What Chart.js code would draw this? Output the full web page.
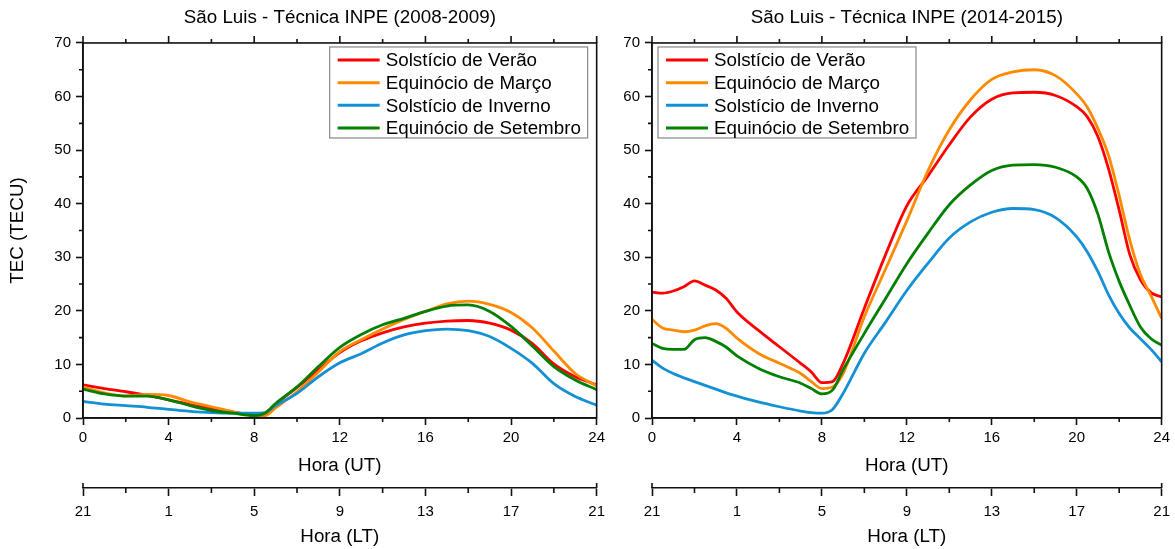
<!DOCTYPE html>
<html lang="pt">
<head>
<meta charset="utf-8">
<title>TEC São Luis - Técnica INPE</title>
<script src="https://cdn.jsdelivr.net/npm/chart.js@4.4.0/dist/chart.umd.min.js"></script>
<style>
  html, body { margin: 0; padding: 0; background: #fff; }
  #wrap { position: relative; width: 1175px; height: 549px; overflow: hidden; }
  canvas { position: absolute; top: 0; }
  #c1 { left: 0; }
  #c2 { left: 612px; }
</style>
</head>
<body>
<div id="wrap">
  <canvas id="c1" width="612" height="549"></canvas>
  <canvas id="c2" width="565" height="549"></canvas>
</div>
<script>
// ---- data ----
const seriesNames = ['Solstício de Verão', 'Equinócio de Março', 'Solstício de Inverno', 'Equinócio de Setembro'];
const seriesColors = ['#FF0000', '#FF8A00', '#1490D5', '#008000'];

const utTicks = [0, 4, 8, 12, 16, 20, 24];
const utMinor = [2, 6, 10, 14, 18, 22];
const ltLabels = ['21', '1', '5', '9', '13', '17', '21'];
const tecMinor = [5, 15, 25, 35, 45, 55, 65];

// 2008-2009 (hours UT)
const hoursA = [0, 1, 2, 3, 4, 5, 6, 7, 8, 8.5, 9, 10, 11, 12, 13, 14, 15, 16, 17, 18, 19, 20, 21, 22, 23, 24];
const veraoA = [6.2, 5.5, 4.9, 4.2, 3.4, 2.5, 1.8, 1.1, 0.6, 0.9, 2.6, 5.7, 9.0, 12.2, 14.4, 15.9, 17.0, 17.7, 18.1, 18.2, 17.7, 16.4, 13.9, 10.1, 7.7, 6.2];
const marcoA = [5.8, 4.7, 4.1, 4.4, 4.2, 3.0, 2.1, 1.2, 0.4, 0.45, 1.9, 4.9, 8.6, 12.4, 14.6, 16.6, 18.4, 19.9, 21.3, 21.8, 21.2, 19.7, 16.8, 12.5, 8.3, 6.0];
const invernoA = [3.1, 2.6, 2.3, 2.0, 1.6, 1.25, 1.0, 0.9, 0.9, 1.0, 2.3, 4.6, 7.7, 10.3, 12.0, 14.0, 15.5, 16.3, 16.6, 16.3, 15.2, 13.0, 10.2, 6.4, 4.0, 2.4];
const setembroA = [5.4, 4.5, 4.1, 4.1, 3.4, 2.3, 1.4, 0.9, 0.45, 0.9, 2.7, 5.8, 9.6, 13.2, 15.6, 17.4, 18.6, 19.9, 20.9, 21.1, 19.9, 17.1, 13.4, 9.6, 7.1, 5.3];

// 2014-2015 (hours UT)
const hoursB = [0, 0.5, 1, 1.5, 2, 2.5, 3, 3.5, 4, 5, 6, 7, 7.5, 8, 8.5, 9, 10, 11, 12, 13, 14, 15, 16, 17, 18, 19, 20, 20.5, 21, 21.5, 22, 22.5, 23, 23.5, 24];
const veraoB = [23.5, 23.3, 23.7, 24.5, 25.6, 24.8, 23.9, 22.3, 19.8, 16.4, 13.3, 10.2, 8.6, 6.6, 6.8, 10.2, 20.5, 30.5, 39.6, 45.2, 51.0, 56.2, 59.5, 60.7, 60.8, 60.2, 58.1, 56.2, 52.5, 46.5, 38.8, 30.5, 25.8, 23.4, 22.6];
const marcoB = [18.4, 16.8, 16.4, 16.1, 16.4, 17.2, 17.6, 16.7, 14.9, 12.1, 10.2, 8.3, 6.8, 5.5, 5.8, 8.3, 18.9, 27.8, 36.8, 46.2, 53.8, 59.4, 63.2, 64.6, 65.0, 63.9, 60.5, 58.0, 54.0, 49.0, 41.5, 33.2, 26.8, 22.8, 18.6];
const invernoB = [10.8, 9.3, 8.3, 7.5, 6.8, 6.1, 5.4, 4.7, 4.1, 3.0, 2.1, 1.3, 1.0, 0.9, 1.6, 4.6, 12.1, 17.9, 23.8, 28.9, 33.6, 36.6, 38.4, 39.1, 38.9, 37.4, 33.8, 31.0, 27.3, 23.0, 19.5, 16.8, 14.8, 12.8, 10.5];
const setembroB = [13.9, 13.0, 12.8, 12.8, 14.6, 15.0, 14.3, 13.2, 11.6, 9.3, 7.7, 6.5, 5.5, 4.5, 5.2, 9.0, 15.8, 22.3, 28.8, 34.5, 39.8, 43.5, 46.2, 47.2, 47.3, 46.8, 45.0, 42.8, 38.0, 31.0, 25.5, 21.0, 17.0, 14.8, 13.6];

// ---- styling ----
const FONT = '"Liberation Sans", Arial, sans-serif';
const INK = '#111';
const AXIS_W = 1.6;

// frame, minor ticks and the boxed legend
const framePlugin = {
  id: 'frame',
  afterDraw(chart, args, opts) {
    const { ctx, chartArea: a, scales } = chart;
    const x = scales.x, y = scales.y, lt = scales.lt;
    ctx.save();
    ctx.strokeStyle = INK;
    ctx.lineWidth = AXIS_W;
    ctx.strokeRect(a.left, a.top, a.right - a.left, a.bottom - a.top);

    ctx.beginPath();
    utTicks.forEach(h => {
      const px = x.getPixelForValue(h);
      ctx.moveTo(px, a.top); ctx.lineTo(px, a.top - 7);
    });
    utMinor.forEach(h => {
      const px = x.getPixelForValue(h);
      ctx.moveTo(px, a.top); ctx.lineTo(px, a.top - 4);
      ctx.moveTo(px, a.bottom); ctx.lineTo(px, a.bottom + 4);
      const pl = lt.getPixelForValue(h);
      ctx.moveTo(pl, lt.top); ctx.lineTo(pl, lt.top + 5);
    });
    tecMinor.forEach(v => {
      const py = y.getPixelForValue(v);
      ctx.moveTo(a.left, py); ctx.lineTo(a.left - 4, py);
    });
    [lt.min, lt.max].forEach(h => {
      const pl = lt.getPixelForValue(h);
      ctx.moveTo(pl, lt.top); ctx.lineTo(pl, lt.top - 5);
    });
    ctx.stroke();

    // legend
    const bw = 258, bh = 91;
    const bx = opts.legendAlign === 'right' ? a.right - 9 - bw : a.left + 6;
    const by = a.top + 4;
    ctx.fillStyle = '#fff';
    ctx.fillRect(bx, by, bw, bh);
    ctx.strokeStyle = '#888';
    ctx.lineWidth = 1.2;
    ctx.strokeRect(bx, by, bw, bh);
    ctx.font = '18.8px ' + FONT;
    ctx.textBaseline = 'middle';
    ctx.textAlign = 'left';
    chart.data.datasets.forEach((ds, i) => {
      const ry = by + 13 + i * 22.7;
      ctx.strokeStyle = ds.borderColor;
      ctx.lineWidth = 3;
      ctx.beginPath();
      ctx.moveTo(bx + 8, ry); ctx.lineTo(bx + 50, ry);
      ctx.stroke();
      ctx.fillStyle = '#000';
      ctx.fillText(ds.label, bx + 56, ry + 1);
    });
    ctx.restore();
  }
};

function axisFont(size) { return { family: FONT, size: size, weight: 'normal' }; }

function makeChart(canvasId, title, hours, series, cfg) {
  return new Chart(document.getElementById(canvasId), {
    type: 'line',
    data: {
      datasets: series.map((vals, i) => ({
        label: seriesNames[i],
        data: hours.map((h, k) => ({ x: h, y: vals[k] })),
        borderColor: seriesColors[i],
        backgroundColor: seriesColors[i],
        borderWidth: 2.8,
        pointRadius: 0,
        cubicInterpolationMode: 'monotone',
        order: series.length - i,
        xAxisID: 'x',
        yAxisID: 'y'
      }))
    },
    options: {
      responsive: false,
      animation: false,
      devicePixelRatio: 1,
      layout: { padding: { left: 0, right: 0, top: 0, bottom: 0 } },
      plugins: {
        legend: { display: false },
        tooltip: { enabled: false },
        title: {
          display: true, text: title, fullSize: false, color: '#000',
          font: axisFont(18.8), padding: { top: 7, bottom: 13.4 }
        },
        frame: { legendAlign: cfg.legendAlign }
      },
      scales: {
        x: {
          type: 'linear', position: 'bottom', weight: 0, min: 0, max: 24,
          afterBuildTicks: s => { s.ticks = utTicks.map(v => ({ value: v })); },
          ticks: { color: '#000', font: axisFont(15), padding: 4, maxRotation: 0, autoSkip: false },
          grid: { drawOnChartArea: false, tickLength: 7, tickColor: INK, tickWidth: AXIS_W },
          border: { display: true, color: INK, width: AXIS_W },
          title: { display: true, text: 'Hora (UT)', color: '#000', font: axisFont(18.8), padding: { top: 0, bottom: 10.7 } },
          afterFit: s => { s.height = 70; }
        },
        lt: {
          type: 'linear', position: 'bottom', weight: 1, min: 0, max: 24,
          afterBuildTicks: s => { s.ticks = utTicks.map(v => ({ value: v })); },
          ticks: { color: '#000', font: axisFont(15), padding: 7, maxRotation: 0, autoSkip: false,
                   callback: (v, i) => ltLabels[i] },
          grid: { drawOnChartArea: false, tickLength: 8, tickColor: INK, tickWidth: AXIS_W },
          border: { display: true, color: INK, width: AXIS_W },
          title: { display: true, text: 'Hora (LT)', color: '#000', font: axisFont(18.8), padding: { top: 0, bottom: 0.7 } },
          afterFit: s => { s.height = 61; }
        },
        y: {
          type: 'linear', position: 'left', min: 0, max: 70,
          ticks: { stepSize: 10, color: '#000', font: axisFont(15), padding: 5 },
          grid: { drawOnChartArea: false, tickLength: 7, tickColor: INK, tickWidth: AXIS_W },
          border: { display: true, color: INK, width: AXIS_W },
          title: { display: cfg.yTitle, text: 'TEC (TECU)', color: '#000', font: axisFont(18.8), padding: { top: 6.7, bottom: 0 } },
          afterFit: s => { s.width = cfg.yWidth; }
        }
      }
    },
    plugins: [framePlugin]
  });
}

makeChart('c1', 'São Luis - Técnica INPE (2008-2009)', hoursA,
  [veraoA, marcoA, invernoA, setembroA],
  { yWidth: 83, yTitle: true, legendAlign: 'right' });

makeChart('c2', 'São Luis - Técnica INPE (2014-2015)', hoursB,
  [veraoB, marcoB, invernoB, setembroB],
  { yWidth: 40, yTitle: false, legendAlign: 'left' });
</script>
</body>
</html>
